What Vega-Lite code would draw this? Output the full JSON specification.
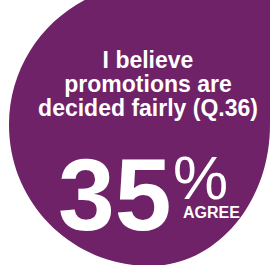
{
  "$schema": "https://vega.github.io/schema/vega-lite/v6.json",
  "width": 270,
  "height": 265,
  "padding": 0,
  "autosize": {"type": "none"},
  "background": "white",
  "config": {"view": {"stroke": null}, "font": "Liberation Sans"},
  "data": {"values": [{"question": "I believe\npromotions are\ndecided fairly (Q.36)", "agree": 35, "unit": "%", "label": "AGREE"}]},
  "layer": [
    {
      "mark": {"type": "point", "shape": "M -1 0 A 1 1 0 0 1 0 -1 L 0.87 -1 L 0.851 0 A 0.851 1 0 0 1 0 1 A 1 1 0 0 1 -1 0 Z", "size": 79524, "filled": true, "color": "#6f2267", "opacity": 1, "strokeWidth": 0},
      "encoding": {
        "x": {"datum": 150, "type": "quantitative", "scale": {"domain": [0, 270], "nice": false, "zero": false}, "axis": null},
        "y": {"datum": 125, "type": "quantitative", "scale": {"domain": [0, 265], "reverse": true, "nice": false, "zero": false}, "axis": null}
      }
    },
    {
      "mark": {"type": "text", "align": "center", "baseline": "alphabetic", "fontSize": 23, "fontWeight": "bold", "color": "white", "lineHeight": 24, "lineBreak": "\n"},
      "encoding": {
        "x": {"datum": 148, "type": "quantitative", "scale": {"domain": [0, 270], "nice": false, "zero": false}, "axis": null},
        "y": {"datum": 67.7, "type": "quantitative", "scale": {"domain": [0, 265], "reverse": true, "nice": false, "zero": false}, "axis": null},
        "text": {"field": "question", "type": "nominal"}
      }
    },
    {
      "mark": {"type": "text", "align": "left", "baseline": "alphabetic", "fontSize": 102, "fontWeight": "bold", "color": "white"},
      "encoding": {
        "x": {"datum": 58, "type": "quantitative", "scale": {"domain": [0, 270], "nice": false, "zero": false}, "axis": null},
        "y": {"datum": 230, "type": "quantitative", "scale": {"domain": [0, 265], "reverse": true, "nice": false, "zero": false}, "axis": null},
        "text": {"field": "agree", "type": "nominal"}
      }
    },
    {
      "mark": {"type": "text", "align": "left", "baseline": "alphabetic", "fontSize": 62, "fontWeight": "normal", "color": "white"},
      "encoding": {
        "x": {"datum": 173, "type": "quantitative", "scale": {"domain": [0, 270], "nice": false, "zero": false}, "axis": null},
        "y": {"datum": 199, "type": "quantitative", "scale": {"domain": [0, 265], "reverse": true, "nice": false, "zero": false}, "axis": null},
        "text": {"field": "unit", "type": "nominal"}
      }
    },
    {
      "mark": {"type": "text", "align": "left", "baseline": "alphabetic", "fontSize": 16, "fontWeight": "bold", "color": "white"},
      "encoding": {
        "x": {"datum": 183, "type": "quantitative", "scale": {"domain": [0, 270], "nice": false, "zero": false}, "axis": null},
        "y": {"datum": 217.5, "type": "quantitative", "scale": {"domain": [0, 265], "reverse": true, "nice": false, "zero": false}, "axis": null},
        "text": {"field": "label", "type": "nominal"}
      }
    }
  ]
}
